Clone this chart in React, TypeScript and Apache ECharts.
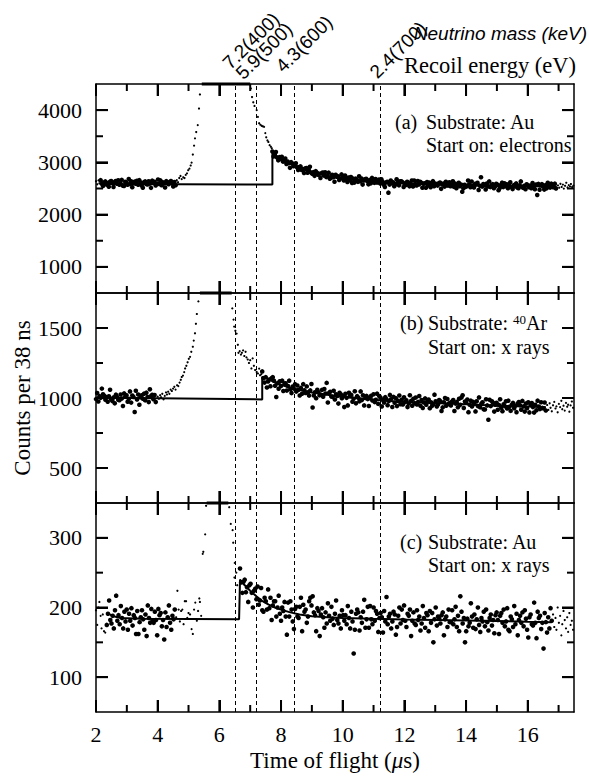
import React, { useEffect, useRef } from "react";
import * as echarts from "echarts";

// ---------- shared axis data ----------
const BIN = 0.038; // µs per channel (38 ns)
const X_RANGE = [2, 17.5];
const xMajorTicks = [2, 4, 6, 8, 10, 12, 14, 16];
const xMinorTicks = [3, 5, 7, 9, 11, 13, 15, 17];
const markerTimes = [6.51, 7.21, 8.43, 11.23];
const markerLabels = ["7.2(400)", "5.9(500)", "4.3(600)", "2.4(700)"];

// ---------- panel (a): Au, start on electrons ----------
const aYRange = [500, 4500];
const aYTicks = [1000, 2000, 3000, 4000];
const aYMinorTicks = [1500, 2500, 3500];
const aLeftStart = 2.15;
const aLeftCounts = [
  2660, 2592, 2548, 2614, 2635, 2575, 2603, 2534, 2628, 2644,
  2605, 2530, 2626, 2642, 2590, 2658, 2572, 2597, 2665, 2553,
  2550, 2627, 2611, 2571, 2680, 2584, 2639, 2526, 2607, 2631,
  2593, 2647, 2574, 2659, 2613, 2556, 2515, 2621, 2636, 2586,
  2576, 2638, 2594, 2512, 2650, 2617, 2629, 2559, 2591, 2673,
  2588, 2655, 2562, 2620, 2602, 2520, 2640, 2625, 2582, 2609,
  2643, 2598, 2539, 2624, 2563,
];
const aRightStart = 7.72;
const aRightCounts = [
  3207, 3114, 3151, 3199, 3091, 3039, 3100, 3066, 3106, 3015,
  3020, 3075, 2970, 3017, 2987, 2895, 3004, 2978, 2925, 2942,
  2984, 2907, 2854, 2911, 2923, 2855, 2874, 2798, 2884, 2892,
  2801, 2852, 2917, 2805, 2780, 2813, 2743, 2832, 2801, 2763,
  2783, 2702, 2793, 2804, 2747, 2810, 2719, 2739, 2803, 2686,
  2705, 2763, 2715, 2629, 2764, 2727, 2735, 2662, 2690, 2769,
  2707, 2655, 2749, 2685, 2626, 2711, 2656, 2718, 2605, 2688,
  2613, 2688, 2670, 2628, 2735, 2637, 2690, 2575, 2654, 2676,
  2686, 2639, 2579, 2662, 2599, 2703, 2636, 2608, 2681, 2617,
  2619, 2672, 2597, 2676, 2629, 2570, 2528, 2614, 2628, 2420,
  2575, 2653, 2600, 2620, 2545, 2583, 2676, 2613, 2560, 2637,
  2638, 2622, 2528, 2597, 2569, 2629, 2608, 2542, 2586, 2654,
  2539, 2651, 2583, 2558, 2644, 2576, 2628, 2612, 2516, 2591,
  2601, 2515, 2625, 2560, 2612, 2524, 2580, 2641, 2544, 2593,
  2583, 2556, 2599, 2614, 2494, 2576, 2594, 2536, 2629, 2562,
  2557, 2620, 2545, 2572, 2637, 2531, 2592, 2507, 2566, 2611,
  2544, 2576, 2440, 2506, 2570, 2531, 2549, 2654, 2582, 2524,
  2633, 2551, 2519, 2589, 2577, 2610, 2472, 2554, 2715, 2536,
  2587, 2563, 2482, 2595, 2540, 2636, 2527, 2567, 2583, 2506,
  2539, 2589, 2574, 2468, 2509, 2566, 2612, 2527, 2600, 2546,
  2581, 2504, 2557, 2620, 2527, 2489, 2564, 2544, 2597, 2519,
  2505, 2563, 2635, 2530, 2512, 2551, 2487, 2582, 2557, 2525,
  2556, 2507, 2604, 2543, 2487, 2575, 2375, 2588, 2478, 2564,
  2583, 2538, 2479, 2564, 2503, 2609, 2544, 2517, 2592, 2529,
  2526, 2593, 2500,
];
const aEdgeDots = [
  [2.0, 2640], [2.04, 2580], [2.08, 2655], [2.11, 2600],
  [4.62, 2660], [4.66, 2620], [4.7, 2700], [4.74, 2740], [4.78, 2680], [4.83, 2715],
  [4.87, 2700], [4.91, 2760], [4.95, 2790], [4.99, 2850], [5.03, 2880], [5.07, 2940],
  [5.1, 2995], [5.14, 3150], [5.18, 3320], [5.21, 3460], [5.25, 3580], [5.3, 3713],
  [5.34, 4030], [5.37, 4300],
  [7.02, 4415], [7.06, 4250], [7.1, 4150], [7.14, 4080], [7.21, 4000], [7.25, 3870],
  [7.29, 3750], [7.33, 3720], [7.37, 3700], [7.41, 3690], [7.45, 3680], [7.49, 3560],
  [7.52, 3480], [7.56, 3420], [7.59, 3390], [7.63, 3330], [7.67, 3300], [7.7, 3270],
  [16.98, 2560], [17.02, 2515], [17.06, 2590], [17.1, 2530], [17.14, 2575], [17.17, 2498],
  [17.21, 2552], [17.25, 2610], [17.29, 2520], [17.33, 2565], [17.37, 2540], [17.4, 2585],
  [17.44, 2530], [17.48, 2555],
];
const aFit = [
  [2.15, 2588], [3.0, 2580], [4.6, 2579], [6.9, 2578], [7.72, 2575], [7.72, 3175],
  [7.91, 3099], [8.1, 3032], [8.29, 2975], [8.5, 2920], [8.7, 2873], [9.0, 2815],
  [9.4, 2756], [9.8, 2711], [10.2, 2678], [10.6, 2652], [11.0, 2633], [11.5, 2612],
  [12.0, 2596], [12.5, 2585], [13.0, 2576], [13.5, 2569], [14.0, 2564], [15.0, 2554],
  [16.0, 2545], [16.94, 2538],
];
const aClipped = [5.43, 7.0];

// ---------- panel (b): 40Ar, start on x rays ----------
const bYRange = [250, 1750];
const bYTicks = [500, 1000, 1500];
const bYMinorTicks = [750, 1250];
const bLeftStart = 2.0;
const bLeftCounts = [
  992, 1036, 975, 1013, 1001, 1067, 1026, 1016, 988, 1006,
  974, 1012, 1059, 990, 979, 1004, 962, 1024, 1008, 987,
  984, 1025, 996, 943, 1033, 1011, 1019, 973, 994, 1047,
  967, 1018, 1007, 900, 1052, 990, 1025, 952, 1005, 1020,
  995, 1031, 983, 1038, 1008, 971, 1062, 1014, 1023, 991,
  1021, 971,
];
const bRightStart = 7.39;
const bRightCounts = [
  1190, 1142, 1110, 1149, 1075, 1118, 1132, 1084, 1142, 1149,
  1123, 1088, 1007, 1106, 1066, 1120, 1085, 1124, 1050, 1103,
  1105, 1053, 1085, 1124, 1062, 1035, 1082, 1067, 1099, 1046,
  1089, 1058, 1018, 1072, 1031, 1099, 1055, 1036, 1083, 1040,
  1017, 1054, 1100, 932, 1018, 1041, 998, 1059, 1042, 1019,
  1023, 1058, 1009, 1064, 1032, 1108, 968, 1036, 1044, 1011,
  1008, 1051, 989, 1027, 1014, 960, 1037, 1026, 998, 1015,
  935, 1030, 1001, 947, 1037, 1015, 1022, 974, 995, 1048,
  962, 1013, 1002, 976, 1047, 985, 1020, 947, 1000, 1015,
  992, 943, 1006, 1016, 982, 1027, 971, 987, 1031, 958,
  1012, 1001, 940, 985, 967, 1006, 992, 949, 978, 1022,
  992, 936, 1008, 966, 999, 942, 979, 1018, 955, 987,
  954, 1005, 971, 984, 935, 960, 1020, 979, 945, 995,
  962, 1003, 954, 972, 1014, 945, 985, 929, 968, 997,
  952, 973, 989, 927, 969, 944, 955, 1024, 977, 939,
  953, 985, 976, 907, 933, 970, 1000, 945, 993, 957,
  965, 947, 975, 985, 907, 960, 972, 934, 995, 951,
  1003, 1019, 929, 975, 967, 989, 899, 952, 981, 940,
  972, 957, 904, 977, 942, 1004, 933, 959, 970, 919,
  918, 991, 947, 845, 987, 942, 976, 966, 903, 952,
  966, 916, 950, 991, 931, 906, 955, 942, 976, 925,
  981, 937, 908, 951, 965, 926, 944, 899, 960, 971,
  948, 916, 979, 940, 903, 960, 927, 969, 897, 953,
  964, 935, 896, 952, 912, 981, 939, 921, 970, 929,
  926, 968, 911,
];
const bEdgeDots = [
  [4.0, 1010], [4.04, 995], [4.08, 1020], [4.11, 1005], [4.15, 1030], [4.19, 990],
  [4.23, 1015], [4.27, 1040], [4.3, 1025], [4.34, 1045], [4.38, 1030], [4.42, 1060],
  [4.46, 1050], [4.5, 1067], [4.54, 1080], [4.58, 1060], [4.63, 1091], [4.67, 1085],
  [4.71, 1110], [4.75, 1130], [4.78, 1150], [4.82, 1160], [4.86, 1185], [4.89, 1211],
  [4.93, 1230], [4.97, 1255], [5.01, 1280], [5.05, 1294], [5.09, 1330], [5.14, 1366],
  [5.17, 1410], [5.21, 1462], [5.24, 1530], [5.27, 1600], [5.32, 1690],
  [6.42, 1640], [6.46, 1560], [6.48, 1510], [6.52, 1480], [6.56, 1460], [6.6, 1380],
  [6.62, 1323], [6.66, 1335], [6.7, 1310], [6.73, 1323], [6.77, 1340], [6.81, 1300],
  [6.85, 1330], [6.88, 1290], [6.92, 1275], [6.96, 1250], [7.0, 1270], [7.04, 1211],
  [7.08, 1283], [7.12, 1230], [7.16, 1200], [7.21, 1186], [7.25, 1175], [7.29, 1210],
  [7.32, 1163], [7.36, 1170],
  [16.63, 950], [16.67, 915], [16.71, 962], [16.74, 930], [16.78, 905], [16.82, 948],
  [16.86, 972], [16.9, 925], [16.93, 940], [16.97, 898], [17.01, 958], [17.05, 935],
  [17.09, 980], [17.12, 920], [17.16, 945], [17.2, 910], [17.24, 965], [17.28, 938],
  [17.31, 952], [17.35, 902], [17.39, 947], [17.43, 975], [17.47, 930],
];
const bFit = [
  [2.0, 1002], [4.0, 998], [7.39, 990], [7.39, 1151], [7.6, 1133], [7.8, 1112],
  [8.0, 1095], [8.2, 1080], [8.4, 1068], [8.7, 1054], [9.0, 1040], [9.4, 1026],
  [9.8, 1013], [10.2, 1004], [10.6, 996], [11.0, 988], [11.5, 979], [12.0, 972],
  [13.0, 964], [14.0, 955], [15.0, 945], [16.0, 939], [16.59, 934],
];
const bClipped = [5.37, 6.4];

// ---------- panel (c): Au, start on x rays ----------
const cYRange = [50, 350];
const cYTicks = [100, 200, 300];
const cYMinorTicks = [150, 250];
const cLeftStart = 2.35;
const cLeftCounts = [
  175, 191, 210, 182, 177, 188, 170, 196, 217, 181,
  189, 176, 202, 185, 170, 194, 180, 197, 168, 191,
  181, 199, 174, 189, 185, 162, 195, 162, 179, 186,
  196, 183, 168, 190, 159, 203, 185, 178, 198, 181,
  178, 194, 182, 160, 198, 189, 192, 173, 182, 154,
  193, 172, 186, 203, 178, 168, 188, 183, 197,
];
const cRightStart = 6.67;
const cRightCounts = [
  256, 236, 221, 237, 240, 222, 229, 208, 232, 234,
  221, 200, 224, 227, 212, 230, 204, 210, 228, 196,
  194, 214, 209, 197, 226, 199, 214, 182, 203, 209,
  209, 187, 200, 217, 191, 181, 200, 195, 208, 187,
  161, 207, 187, 209, 197, 180, 169, 198, 201, 187,
  185, 201, 214, 166, 204, 194, 197, 178, 187, 209,
  214, 203, 216, 193, 189, 166, 199, 195, 159, 190,
  199, 186, 171, 193, 177, 206, 188, 181, 201, 184,
  175, 191, 210, 182, 177, 188, 170, 196, 189, 181,
  189, 176, 202, 185, 170, 194, 180, 134, 168, 191,
  197, 193, 167, 186, 178, 194, 211, 171, 183, 201,
  171, 202, 183, 176, 200, 181, 195, 191, 165, 185,
  192, 186, 164, 195, 180, 215, 176, 187, 191, 170,
  180, 194, 190, 161, 172, 188, 200, 177, 197, 182,
  203, 181, 172, 191, 188, 197, 159, 181, 193, 177,
  175, 196, 182, 187, 167, 177, 202, 185, 171, 192,
  189, 166, 195, 178, 192, 150, 183, 200, 174, 187,
  184, 177, 189, 193, 160, 183, 187, 172, 197, 179,
  179, 196, 176, 183, 201, 172, 188, 166, 216, 194,
  177, 185, 150, 166, 184, 173, 178, 206, 187, 171,
  190, 169, 183, 200, 175, 165, 185, 180, 194, 173,
  197, 179, 167, 185, 190, 174, 182, 163, 189, 193,
  182, 162, 188, 192, 178, 197, 173, 180, 199, 168,
  166, 187, 183, 172, 202, 176, 191, 160, 182, 188,
  178, 193, 173, 196, 184, 168, 157, 186, 190, 176,
  174, 207, 178, 156, 194, 185, 188, 169, 178, 141,
  192, 179, 164, 186, 170, 199, 181,
];
const cEdgeDots = [
  [2.0, 196], [2.04, 175], [2.08, 200], [2.11, 208], [2.15, 188], [2.18, 170],
  [2.22, 190], [2.26, 166], [2.3, 164],
  [4.6, 186], [4.64, 224], [4.68, 197], [4.72, 180], [4.76, 195], [4.8, 197],
  [4.84, 176], [4.88, 209], [4.92, 209], [4.96, 185], [5.0, 192], [5.05, 190],
  [5.1, 169], [5.14, 162], [5.18, 197], [5.22, 207], [5.27, 181], [5.31, 195],
  [5.35, 213], [5.37, 208], [5.41, 188], [5.46, 277], [5.48, 280], [5.54, 305],
  [5.57, 346],
  [6.32, 344], [6.37, 320], [6.43, 311], [6.45, 293], [6.49, 243], [6.5, 264],
  [6.55, 250], [6.58, 232],
  [16.82, 190], [16.86, 172], [16.9, 185], [16.93, 168], [16.97, 200], [17.01, 178],
  [17.05, 188], [17.09, 160], [17.12, 176], [17.16, 195], [17.2, 182], [17.24, 170],
  [17.28, 186], [17.31, 165], [17.35, 192], [17.39, 175], [17.43, 181], [17.47, 168],
];
const cFit = [
  [2.45, 190], [2.6, 187], [2.8, 185], [3.5, 184], [6.64, 183], [6.67, 240],
  [6.8, 233], [7.0, 224], [7.2, 216], [7.4, 209], [7.6, 204], [7.8, 200],
  [8.0, 197], [8.3, 193], [8.6, 190], [9.0, 187.6], [9.5, 186], [10.0, 185],
  [11.0, 183.8], [12.0, 182.9], [13.0, 182.1], [14.0, 181.3], [15.0, 180.5],
  [16.0, 179.6], [16.78, 179],
];
const cClipped = [5.59, 6.29];

// ---------- chart ----------
const SERIF = '"Liberation Serif", "Times New Roman", serif';
const SANS = '"Liberation Sans", Arial, sans-serif';
const MAJOR_LEN = 12;
const MINOR_LEN = 7;
const TICK_W = 2;

function binned(start: number, counts: number[]) {
  return counts.map((v, i) => [Number((start + i * BIN).toFixed(3)), v]);
}

const panels = [
  { yRange: aYRange, yTicks: aYTicks, yMinor: aYMinorTicks, left: binned(aLeftStart, aLeftCounts), right: binned(aRightStart, aRightCounts), edge: aEdgeDots, fit: aFit, clip: aClipped },
  { yRange: bYRange, yTicks: bYTicks, yMinor: bYMinorTicks, left: binned(bLeftStart, bLeftCounts), right: binned(bRightStart, bRightCounts), edge: bEdgeDots, fit: bFit, clip: bClipped },
  { yRange: cYRange, yTicks: cYTicks, yMinor: cYMinorTicks, left: binned(cLeftStart, cLeftCounts), right: binned(cRightStart, cRightCounts), edge: cEdgeDots, fit: cFit, clip: cClipped },
];

const gridBoxes = [
  { top: 84, height: 209 },
  { top: 293, height: 210 },
  { top: 503, height: 209 },
];

function frameAxis(kind: "x" | "y", g: number, position: string, range: number[], tickValues: number[], labels: boolean) {
  return {
    type: "value",
    gridIndex: g,
    position,
    min: range[0],
    max: range[1],
    splitLine: { show: false },
    axisLine: { show: true, onZero: false, lineStyle: { color: "#000", width: 1.5 } },
    axisTick: { show: true, inside: true, length: MAJOR_LEN, customValues: tickValues, lineStyle: { color: "#000", width: TICK_W } },
    axisLabel: labels
      ? {
          show: true, customValues: tickValues, color: "#000", fontFamily: SERIF, fontSize: 22,
          margin: kind === "x" ? 11 : 14,
          formatter: (v: number) => String(v),
        }
      : { show: false },
  };
}

// inward minor + major ticks as thin rect symbols anchored on the frame (through the grid's scales)
function tickMarks(p: any) {
  const items: any[] = [];
  const xt = [...xMajorTicks.map((v) => [v, MAJOR_LEN]), ...xMinorTicks.map((v) => [v, MINOR_LEN])];
  xt.forEach(([v, len]) => {
    items.push({ value: [v, p.yRange[0]], symbolSize: [TICK_W, len], symbolOffset: [0, -len / 2] });
    items.push({ value: [v, p.yRange[1]], symbolSize: [TICK_W, len], symbolOffset: [0, len / 2] });
  });
  const yt = [...p.yTicks.map((v: number) => [v, MAJOR_LEN]), ...p.yMinor.map((v: number) => [v, MINOR_LEN])];
  yt.forEach(([v, len]) => {
    items.push({ value: [X_RANGE[0], v], symbolSize: [len, TICK_W], symbolOffset: [len / 2, 0] });
    items.push({ value: [X_RANGE[1], v], symbolSize: [len, TICK_W], symbolOffset: [-len / 2, 0] });
  });
  return items;
}

function buildOption() {
  const grid = gridBoxes.map((b) => ({ left: 96, width: 478, ...b }));
  const xAxis: any[] = [];
  const yAxis: any[] = [];
  const series: any[] = [];
  panels.forEach((p, g) => {
    xAxis.push(frameAxis("x", g, "bottom", X_RANGE, xMajorTicks, g === 2));
    yAxis.push(
      frameAxis("y", g, "left", p.yRange, p.yTicks, true),
      frameAxis("y", g, "right", p.yRange, p.yTicks, false)
    );
    const ax = { xAxisIndex: g, yAxisIndex: g * 2, silent: true };
    series.push(
      { type: "scatter", ...ax, data: p.left, symbolSize: 4.6, itemStyle: { color: "#000", opacity: 1 } },
      { type: "scatter", ...ax, data: p.right, symbolSize: 4.6, itemStyle: { color: "#000", opacity: 1 } },
      { type: "scatter", ...ax, data: p.edge, symbolSize: 2.2, itemStyle: { color: "#000", opacity: 1 } },
      {
        type: "line", ...ax, data: p.fit, symbol: "none", lineStyle: { color: "#000", width: 2 },
        markLine: {
          silent: true, symbol: ["none", "none"], label: { show: false },
          lineStyle: { color: "#000", type: [4, 3], width: 1 },
          data: markerTimes.map((t) => ({ xAxis: t })),
        },
      },
      {
        type: "line", ...ax, clip: false, symbol: "none", lineStyle: { color: "#000", width: 3 },
        data: [[p.clip[0], p.yRange[1]], [p.clip[1], p.yRange[1]]],
      },
      {
        type: "scatter", ...ax, clip: false, symbol: "rect", z: 5,
        itemStyle: { color: "#000", opacity: 1 },
        data: tickMarks(p),
      }
    );
  });
  panels.forEach((p, g) => {
    xAxis.push(frameAxis("x", g, "top", X_RANGE, xMajorTicks, false));
  });

  const txt = (x: number, y: number, text: string, extra: any = {}) => ({
    type: "text", x, y, silent: true, z: 10,
    style: {
      text, fill: "#000", fontFamily: SERIF, fontSize: 20,
      align: "left", verticalAlign: "middle", textAlign: "left", textVerticalAlign: "middle",
      ...extra,
    },
  });
  const labelPos = [[226, 66], [239, 76], [279, 69], [373, 75]];
  const graphic = [
    txt(395, 122, "(a)"), txt(426, 122, "Substrate: Au"), txt(426, 145, "Start on: electrons"),
    txt(400, 323, "(b)"),
    txt(428, 323, "Substrate: {sup|40}Ar", { rich: { sup: { fontSize: 13, fontFamily: SERIF, verticalAlign: "top", fill: "#000" } } }),
    txt(428, 347, "Start on: x rays"),
    txt(400, 542, "(c)"), txt(428, 542, "Substrate: Au"), txt(428, 565, "Start on: x rays"),
    {
      type: "text", x: 22, y: 398, rotation: Math.PI / 2, silent: true,
      style: { text: "Counts per 38 ns", fill: "#000", fontFamily: SERIF, fontSize: 23, align: "center", verticalAlign: "middle", textAlign: "center", textVerticalAlign: "middle" },
    },
    txt(335, 760, "Time of flight ({it|μ}s)", {
      fontSize: 23, align: "center", textAlign: "center",
      rich: { it: { fontStyle: "italic", fontSize: 23, fontFamily: SERIF, fill: "#000" } },
    }),
    txt(587, 33, "Neutrino mass (keV)", { fontFamily: SANS, fontStyle: "italic", fontSize: 19, align: "right", textAlign: "right" }),
    txt(404, 65, "Recoil energy (eV)", { fontSize: 22.5 }),
    ...markerLabels.map((t, i) => ({
      type: "text", x: labelPos[i][0], y: labelPos[i][1], rotation: Math.PI / 4, silent: true,
      style: { text: t, fill: "#000", fontFamily: SANS, fontSize: 19, align: "left", verticalAlign: "middle", textAlign: "left", textVerticalAlign: "middle" },
    })),
  ];

  return { animation: false, backgroundColor: "#fff", grid, xAxis, yAxis, series, graphic };
}

export default function App() {
  const ref = useRef<HTMLDivElement>(null);
  useEffect(() => {
    document.body.style.margin = "0";
    if (!ref.current) return;
    const chart = echarts.init(ref.current, undefined, { renderer: "svg" });
    chart.setOption(buildOption() as any);
    return () => chart.dispose();
  }, []);
  return <div ref={ref} style={{ width: 589, height: 777 }} />;
}
